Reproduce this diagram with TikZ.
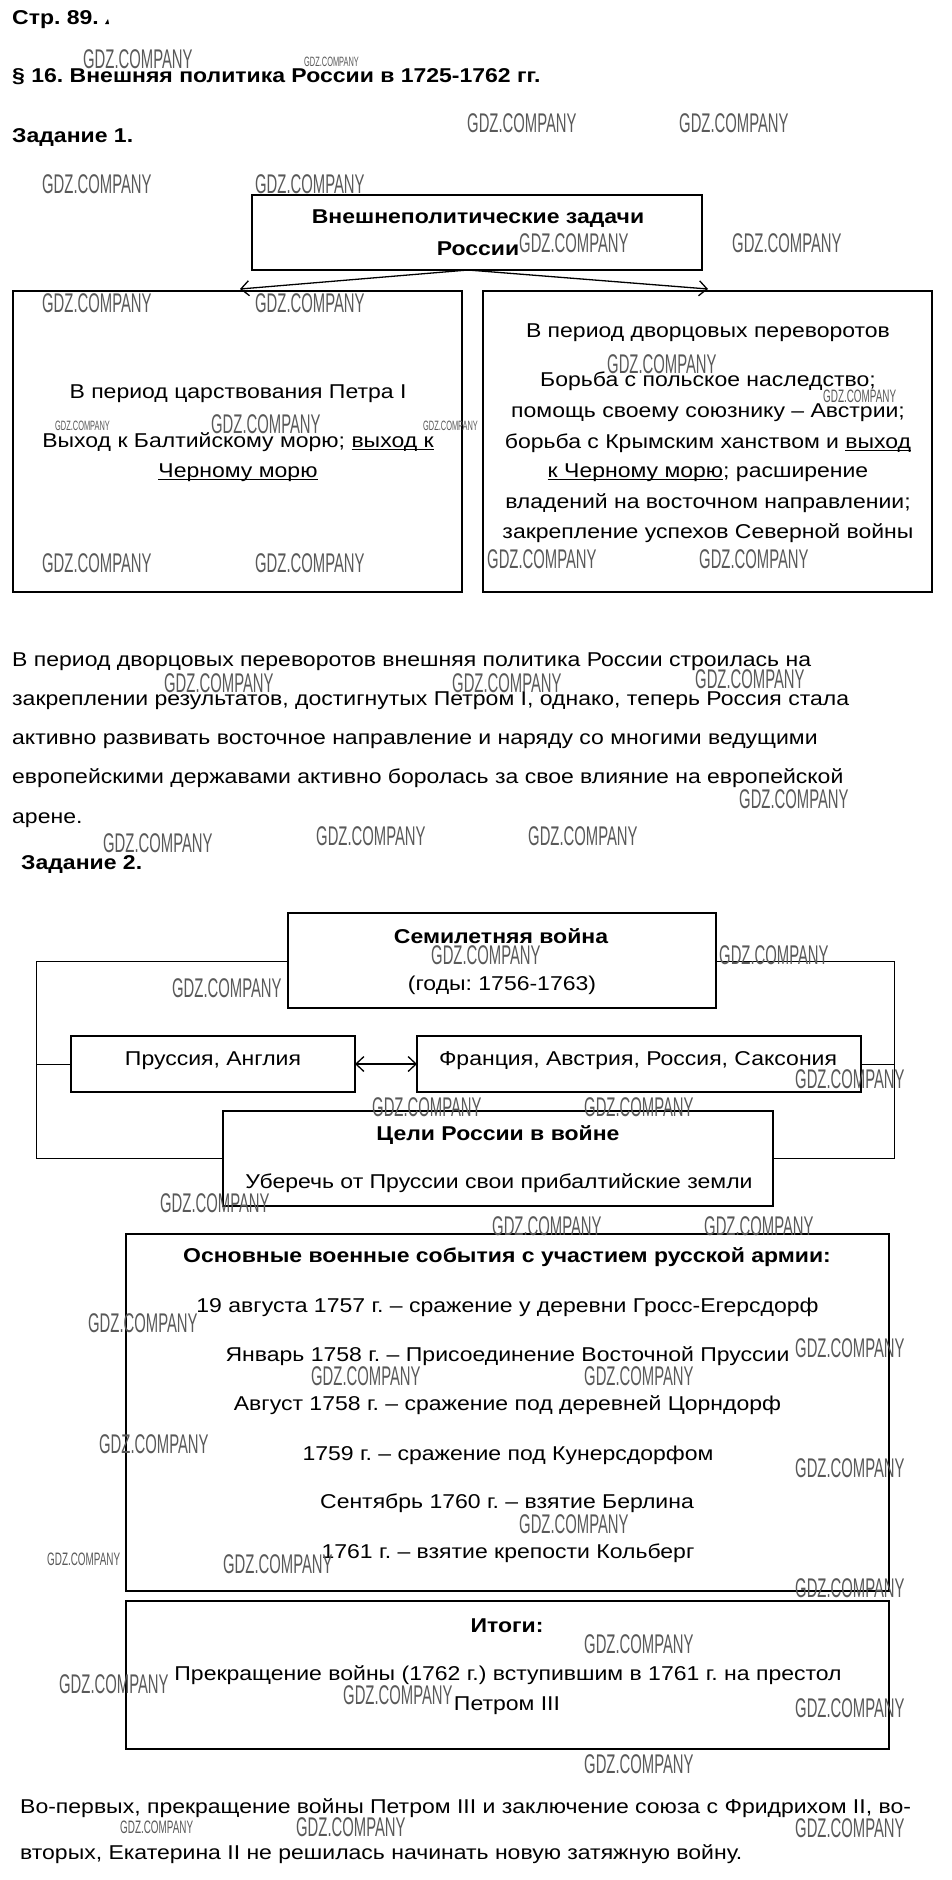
\documentclass[tikz,border=0pt]{standalone}
\usepackage{fontspec}
\setmainfont{Liberation Sans}[FakeStretch=1.15]
\usetikzlibrary{arrows.meta}
\frenchspacing
\newcommand\myul[1]{\setbox0\hbox{#1}\rlap{\rule[-3pt]{\wd0}{1.3pt}}\box0}
\newcommand\gdz{\scalebox{0.478}[1]{GDZ.COMPANY}}
\tikzset{
 box/.style={draw, line width=2.2pt, fill=white, inner sep=0pt, outer sep=0pt},
 t/.style={anchor=base, inner sep=0pt, font=\fontsize{20}{24}\selectfont},
 tb/.style={anchor=base, inner sep=0pt, font=\fontsize{20}{24}\selectfont\bfseries},
 tl/.style={t, anchor=base west},
 tbl/.style={tb, anchor=base west},
 arr/.style={line width=1.3pt, -{Straight Barb[length=8pt,width=15pt]}},
 arrb/.style={line width=1.3pt, {Straight Barb[length=8pt,width=15pt]}-{Straight Barb[length=8pt,width=15pt]}},
 wm/.style={anchor=base west, inner sep=0pt, text=black!65, font=\fontsize{27}{27}\selectfont},
 wmm/.style={anchor=base west, inner sep=0pt, text=black!65, font=\fontsize{18}{18}\selectfont},
 wms/.style={anchor=base west, inner sep=0pt, text=black!65, font=\fontsize{13.5}{13.5}\selectfont},
}
\begin{document}
\begin{tikzpicture}[x=1pt,y=-1pt]
\useasboundingbox[fill=white] (0,0) rectangle (952,1880);

% ---- header
\node[tbl] (h0) at (12,24) {Стр. 89.};
\fill (105,24) -- (109,24) -- (108,19) -- cycle;
\node[tbl] (h1) at (12,82) {§ 16. Внешняя политика России в 1725-1762 гг.};
\node[tbl] (h2) at (12,142) {Задание 1.};

% ---- task 1 boxes
\node[box, minimum width=450, minimum height=75] (top) at (477,232.5) {};
\node[box, minimum width=449, minimum height=301] (lb) at (237.5,441.5) {};
\node[box, minimum width=449, minimum height=301] (rb) at (707.5,441.5) {};
\coordinate (lbt) at (240,289);
\coordinate (rbt) at (708,289);
\draw[arr] ([xshift=-9pt]top.south) -- (lbt);
\draw[arr] ([xshift=-9pt]top.south) -- (rbt);

\node[tb] at (478,223) {Внешнеполитические задачи};
\node[tb] at (478,255) {России};

\node[t] at (238,398) {В период царствования Петра I};
\node[t] at (238,447) {Выход к Балтийскому морю; \myul{выход к}};
\node[t] at (238,477) {\myul{Черному морю}};

\node[t] at (708,337) {В период дворцовых переворотов};
\node[t] at (708,386) {Борьба с польское наследство;};
\node[t] at (708,417) {помощь своему союзнику – Австрии;};
\node[t] at (708,448) {борьба с Крымским ханством и \myul{выход}};
\node[t] at (708,477) {\myul{к Черному морю}; расширение};
\node[t] at (708,508) {владений на восточном направлении;};
\node[t] at (708,538) {закрепление успехов Северной войны};

% ---- paragraph
\node[tl] at (12,666) {В период дворцовых переворотов внешняя политика России строилась на};
\node[tl] at (12,705) {закреплении результатов, достигнутых Петром I, однако, теперь Россия стала};
\node[tl] at (12,744) {активно развивать восточное направление и наряду со многими ведущими};
\node[tl] at (12,783) {европейскими державами активно боролась за свое влияние на европейской};
\node[tl] at (12,823) {арене.};

\node[tbl] (h3) at (21,869) {Задание 2.};

% ---- task 2
\draw[line width=1pt] (36,961) rectangle (894,1158);
\node[box, minimum width=428, minimum height=95] (sem) at (502,960.5) {};
\node[box, minimum width=284, minimum height=56] (pr) at (213,1064) {};
\node[box, minimum width=444, minimum height=56] (fr) at (639,1064) {};
\node[box, minimum width=550, minimum height=95] (goal) at (498,1158.5) {};
\coordinate (fl) at (36,1064);
\coordinate (fr2) at (894,1064);
\draw[line width=1pt] (fl) -- (pr.west);
\draw[line width=1pt] (fr.east) -- (fr2);
\draw[arrb] (pr.east) -- (fr.west);

\node[tb] at (501,943) {Семилетняя война};
\node[t] at (502,990) {(годы: 1756-1763)};
\node[t] at (213,1065) {Пруссия, Англия};
\node[t] at (638,1065) {Франция, Австрия, Россия, Саксония};
\node[tb] at (498,1140) {Цели России в войне};
\node[t] at (499,1188) {Уберечь от Пруссии свои прибалтийские земли};

\node[box, minimum width=763, minimum height=357] (ev) at (507.5,1412.5) {};
\node[tb] at (507,1262) {Основные военные события с участием русской армии:};
\node[t] at (507.5,1312) {19 августа 1757 г. – сражение у деревни Гросс-Егерсдорф};
\node[t] at (507.5,1361) {Январь 1758 г. – Присоединение Восточной Пруссии};
\node[t] at (507.5,1410) {Август 1758 г. – сражение под деревней Цорндорф};
\node[t] at (508,1460) {1759 г. – сражение под Кунерсдорфом};
\node[t] at (507,1508) {Сентябрь 1760 г. – взятие Берлина};
\node[t] at (508,1558) {1761 г. – взятие крепости Кольберг};

\node[box, minimum width=763, minimum height=148] (it) at (507.5,1675) {};
\node[tb] at (507,1632) {Итоги:};
\node[t] at (508,1680) {Прекращение войны (1762 г.) вступившим в 1761 г. на престол};
\node[t] at (507,1710) {Петром III};

\node[tl] at (20,1813) {Во-первых, прекращение войны Петром III и заключение союза с Фридрихом II, во-};
\node[tl] at (20,1859) {вторых, Екатерина II не решилась начинать новую затяжную войну.};

% ---- watermarks
\foreach \x/\y in {83/68,467/132,679/132,42/193,255/193,519/252,732/252,42/312,255/312,607/373,211/433,42/572,255/572,487/568,699/568,164/692,452/692,695/688,739/808,103/852,316/845,528/845,431/964,719/964,172/997,795/1088,372/1116,584/1116,160/1212,492/1235,704/1235,88/1332,795/1357,311/1385,584/1385,99/1453,795/1477,519/1533,223/1573,795/1597,584/1653,59/1693,343/1704,795/1717,584/1773,296/1836,795/1837}
  \node[wm] at (\x,\y) {\gdz};
\foreach \x/\y in {823/402,47/1565,120/1833}
  \node[wmm] at (\x,\y) {\gdz};
\foreach \x/\y in {304/66,55/430,423/430}
  \node[wms] at (\x,\y) {\gdz};
\end{tikzpicture}
\end{document}
